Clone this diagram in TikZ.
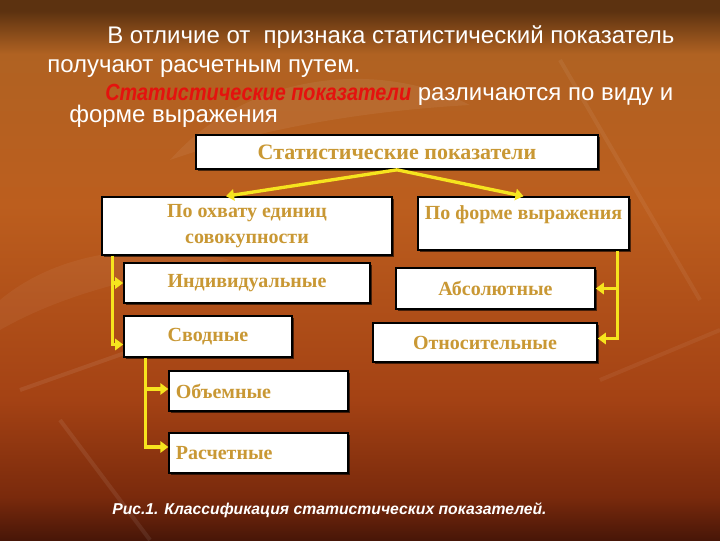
\documentclass[tikz,border=0pt]{standalone}
\usepackage{fontspec}
\setmainfont{Liberation Sans}
\newfontfamily\boxfont{Liberation Serif}
\usepackage{graphicx}
\usepackage{tikz}
\usetikzlibrary{calc,arrows.meta,shadows}

\definecolor{bgtop}{RGB}{92,50,16}
\definecolor{bgup}{RGB}{176,98,34}
\definecolor{bgmid}{RGB}{188,94,30}
\definecolor{bglow}{RGB}{164,66,20}
\definecolor{bgdeep}{RGB}{122,42,12}
\definecolor{bgbot}{RGB}{72,22,8}
\definecolor{boxgold}{RGB}{201,152,52}
\definecolor{linkyellow}{RGB}{246,228,30}
\definecolor{redtitle}{RGB}{228,18,14}

\pgfdeclareverticalshading{slidebg}{100bp}{color(0bp)=(bgbot); color(25bp)=(bgbot);
  color(29bp)=(bgdeep); color(38bp)=(bglow); color(56bp)=(bgmid); color(70bp)=(bgup);
  color(74bp)=(bgtop); color(100bp)=(bgtop)}

\begin{document}
\begin{tikzpicture}[x=0.75pt,y=-0.75pt,
    box/.style={draw=black,line width=1.2pt,fill=white,inner sep=3pt,
      font=\boxfont\bfseries\fontsize{15}{19}\selectfont,text=boxgold,
      drop shadow={shadow xshift=1.5pt,shadow yshift=-1.5pt,opacity=0.6,fill=black}},
    link/.style={draw=linkyellow,line width=2.5pt,-{Triangle[width=8.5pt,length=6pt]}},
    slide/.style={anchor=base west,inner sep=0pt,text=white,font=\fontsize{18}{21}\selectfont}]

    % Background
    \shade[shading=slidebg] (0,0) rectangle (720,540);
    \useasboundingbox (0,0) rectangle (720,540);
    \fill[white,opacity=0.06] (170,160) .. controls (250,70) and (380,60) .. (470,105)
        .. controls (380,110) and (270,125) .. (170,160);
    \fill[white,opacity=0.05] (0,300) .. controls (60,250) and (150,240) .. (230,260)
        .. controls (150,275) and (70,290) .. (0,330);
    \draw[white,opacity=0.08,line width=3pt] (20,390) -- (190,330);
    \draw[white,opacity=0.08,line width=3pt] (60,420) -- (150,540);
    \draw[white,opacity=0.06,line width=3pt] (560,60) -- (700,300);
    \draw[white,opacity=0.06,line width=3pt] (600,380) -- (720,330);

    % Text
    \node[slide] (l1) at (107,43) {В отличие от\ \ признака статистический показатель};
    \node[slide] (l2) at (47,72) {получают расчетным путем.};
    \node[slide] (l3) at (105,100) {\scalebox{0.85}[1]{\textcolor{redtitle}{\bfseries\itshape\fontsize{17.5}{20}\selectfont Статистические показатели}} различаются по виду и};
    \node[slide] (l4) at (69,122) {форме выражения};

    % Boxes
    \node[box,minimum width=301.5pt,minimum height=25.5pt,font=\boxfont\bfseries\fontsize{16.5}{19}\selectfont] (stat) at (397,152) {Статистические показатели};
    \node[box,minimum width=217.5pt,minimum height=43.5pt,align=center] (ohvat) at (247,226) {По охвату единиц\\совокупности};
    \node[box,minimum width=158.25pt,text height=13.5pt,text depth=20.25pt] (forma) at (523.5,223.5) {По форме выражения};
    \node[box,minimum width=184.5pt,minimum height=30pt] (indiv) at (247,283) {Индивидуальные};
    \node[box,minimum width=126pt,minimum height=30.75pt] (svod) at (208,336.5) {Сводные};
    \node[box,minimum width=149.25pt,minimum height=30.75pt] (abs) at (495.5,288.5) {Абсолютные};
    \node[box,minimum width=168pt,minimum height=29.25pt] (otn) at (485,342.5) {Относительные};
    \node[box,text width=124pt,inner xsep=5pt,minimum height=30pt,align=left] (obem) at (258.5,391) {Объемные};
    \node[box,text width=124pt,inner xsep=5pt,minimum height=30pt,align=left] (rasch) at (258.5,453) {Расчетные};

    % Links
    \draw[link] (stat.south) -- ($(ohvat.north)+(-21,0)$);
    \draw[link] (stat.south) -- (forma.north);
    \coordinate (lt) at ($(ohvat.south west)+(11,0)$);
    \draw[link] (lt) |- (indiv.west);
    \draw[link] (lt) |- ($(svod.west)+(0,8)$);
    \coordinate (st) at ($(svod.south west)+(22,0)$);
    \draw[link] (st) |- ($(obem.west)+(0,-2)$);
    \draw[link] (st) |- ($(rasch.west)+(0,-6)$);
    \coordinate (rt) at ($(forma.south east)+(-12,0)$);
    \draw[link] (rt) |- (abs.east);
    \draw[link] (rt) |- ($(otn.east)+(0,-4)$);

    % Caption
    \node[slide,font=\bfseries\itshape\fontsize{11.8}{15}\selectfont] (cap) at (112,514) {Рис.1. Классификация статистических показателей.};
\end{tikzpicture}
\end{document}
